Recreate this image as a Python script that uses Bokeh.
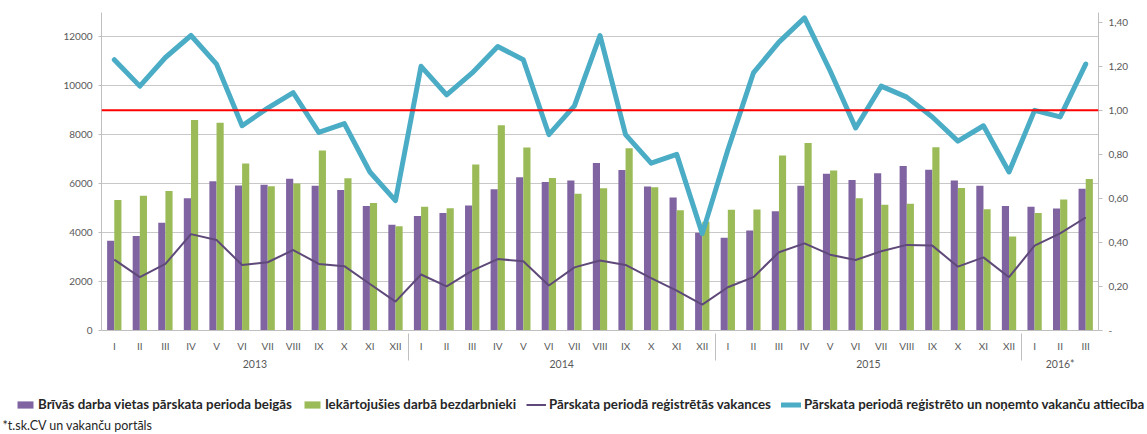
from bokeh.plotting import figure
from bokeh.layouts import column
from bokeh.models import (FactorRange, Range1d, LinearAxis, FixedTicker, CustomJSTickFormatter,
                          ColumnDataSource, Span, Legend, LegendItem, Label)
from bokeh.transform import dodge
from bokeh.embed import file_html
from bokeh.resources import INLINE

years = ["2013", "2014", "2015", "2016*"]
months = ["I", "II", "III", "IV", "V", "VI", "VII", "VIII", "IX", "X", "XI", "XII"]
months_per_year = [12, 12, 12, 3]

# Brīvās darba vietas pārskata perioda beigās (purple bars)
vacancies_end = [3670, 3860, 4400, 5410, 6100, 5930, 5960, 6200, 5920, 5740, 5090, 4320,
                 4680, 4800, 5110, 5770, 6270, 6070, 6130, 6850, 6560, 5890, 5440, 4000,
                 3790, 4090, 4870, 5920, 6410, 6150, 6430, 6720, 6570, 6130, 5920, 5090,
                 5060, 4990, 5790]
# Iekārtojušies darbā bezdarbnieki (green bars)
employed = [5330, 5510, 5700, 8610, 8490, 6830, 5900, 6010, 7360, 6220, 5210, 4260,
            5060, 5000, 6790, 8390, 7480, 6230, 5590, 5820, 7450, 5860, 4920, 4450,
            4940, 4950, 7150, 7670, 6540, 5410, 5140, 5180, 7490, 5830, 4960, 3840,
            4800, 5360, 6190]
# Pārskata periodā reģistrētās vakances (dark purple line)
registered = [2900, 2180, 2720, 3940, 3700, 2680, 2790, 3290, 2720, 2630, 1900, 1180,
              2290, 1800, 2450, 2920, 2830, 1840, 2580, 2860, 2680, 2140, 1630, 1060,
              1770, 2180, 3200, 3560, 3100, 2880, 3240, 3500, 3470, 2610, 2990, 2180,
              3470, 3970, 4620]
# Pārskata periodā reģistrēto un noņemto vakanču attiecība (blue line, right axis)
ratio = [1.23, 1.11, 1.24, 1.34, 1.21, 0.93, 1.01, 1.08, 0.90, 0.94, 0.72, 0.59,
         1.20, 1.07, 1.17, 1.29, 1.23, 0.89, 1.02, 1.34, 0.89, 0.76, 0.80, 0.44,
         0.82, 1.17, 1.31, 1.42, 1.18, 0.92, 1.11, 1.06, 0.97, 0.86, 0.93, 0.72,
         1.00, 0.97, 1.21]

left_ticks = [0, 2000, 4000, 6000, 8000, 10000, 12000]
right_ticks = [0, 0.2, 0.4, 0.6, 0.8, 1.0, 1.2, 1.4]
threshold = 9000
left_max = 13000

series_labels = ["Brīvās darba vietas pārskata perioda beigās",
                 "Iekārtojušies darbā bezdarbnieki",
                 "Pārskata periodā reģistrētās vakances",
                 "Pārskata periodā reģistrēto un noņemto vakanču attiecība"]
footnote = "*t.sk.CV un vakanču portāls"

factors = [(y, months[m]) for y, n in zip(years, months_per_year) for m in range(n)]

FONT = "Lato"
GRAY = "#595959"
PURPLE = "#8064A2"
GREEN = "#9BBB59"
DARK = "#5F497A"
BLUE = "#4BACC6"
W = 1147

src = ColumnDataSource(dict(x=factors, vac=vacancies_end, emp=employed, reg=registered, ratio=ratio))

p = figure(x_range=FactorRange(factors=factors, group_padding=0, factor_padding=0, range_padding=0),
           y_range=Range1d(0, left_max), width=W, height=376,
           output_backend="svg", toolbar_location=None,
           min_border_left=101, min_border_right=W - 1098, min_border_top=12, min_border_bottom=46)
p.outline_line_color = None
p.border_fill_color = "white"

p.extra_y_ranges = {"ratio": Range1d(0, left_max / threshold)}

# left axis
ya = p.yaxis[0]
ya.ticker = FixedTicker(ticks=left_ticks)
ya.axis_line_color = "#BFBFBF"
ya.major_tick_line_color = "#BFBFBF"
ya.major_tick_out = 3
ya.major_tick_in = 0
ya.minor_tick_line_color = None
ya.major_label_standoff = 6
ya.major_label_text_font = FONT
ya.major_label_text_font_size = "10px"
ya.major_label_text_color = GRAY

# right axis
ra = LinearAxis(y_range_name="ratio", ticker=FixedTicker(ticks=right_ticks),
                formatter=CustomJSTickFormatter(code="return tick == 0 ? '-' : tick.toFixed(2).replace('.', ',');"))
ra.axis_line_color = "#BFBFBF"
ra.major_tick_line_color = "#BFBFBF"
ra.major_tick_out = 4
ra.major_tick_in = 0
ra.minor_tick_line_color = None
ra.major_label_standoff = 6
ra.major_label_text_font = FONT
ra.major_label_text_font_size = "10px"
ra.major_label_text_color = GRAY
p.add_layout(ra, "right")

# x axis
xa = p.xaxis[0]
xa.axis_line_color = "#BFBFBF"
xa.major_tick_line_color = None
xa.minor_tick_line_color = None
xa.major_label_text_font = FONT
xa.major_label_text_font_size = "10px"
xa.major_label_text_color = GRAY
xa.major_label_text_line_height = 2.0
xa.major_label_standoff = 3
xa.group_text_font = FONT
xa.group_text_font_size = "10.5px"
xa.group_text_font_style = "normal"
xa.group_text_color = GRAY
xa.separator_line_color = "#BFBFBF"
xa.separator_line_width = 1

p.xgrid.grid_line_color = None
p.ygrid.ticker = FixedTicker(ticks=left_ticks[1:])
p.ygrid.grid_line_color = "#C8C8C8"
p.ygrid.grid_line_width = 1

p.vbar(x=dodge("x", -0.14, range=p.x_range), top="vac", width=0.28, source=src,
       fill_color=PURPLE, line_color=None)
p.vbar(x=dodge("x", 0.14, range=p.x_range), top="emp", width=0.28, source=src,
       fill_color=GREEN, line_color=None)

p.add_layout(Span(location=threshold, dimension="width", line_color="#FF0000", line_width=2))

p.line(x="x", y="reg", source=src, line_color=DARK, line_width=2)
p.line(x="x", y="ratio", source=src, y_range_name="ratio", line_color=BLUE,
       line_width=5, line_join="round", line_cap="round")

# legend + footnote strip below the chart
q = figure(width=W, height=56, x_range=Range1d(0, W), y_range=Range1d(0, 56),
           output_backend="svg", toolbar_location=None, min_border=0)
q.frame_align = False
q.axis.visible = False
q.grid.visible = False
q.outline_line_color = None
q.border_fill_color = "white"
nan = float("nan")
dummy = ColumnDataSource(dict(x=[nan], y=[nan]))
l1 = q.vbar(x="x", top="y", width=1, source=dummy, fill_color=PURPLE, line_color=None)
l2 = q.vbar(x="x", top="y", width=1, source=dummy, fill_color=GREEN, line_color=None)
l3 = q.line(x="x", y="y", source=dummy, line_color=DARK, line_width=2)
l4 = q.line(x="x", y="y", source=dummy, line_color=BLUE, line_width=5, line_cap="round")

legend = Legend(items=[LegendItem(label=t, renderers=[r]) for t, r in zip(series_labels, [l1, l2, l3, l4])],
                orientation="horizontal", location=(15, 20))
legend.label_text_font = FONT
legend.label_text_font_size = "13.3px"
legend.label_text_font_style = "bold"
legend.label_text_color = "#262626"
legend.glyph_width = 20
legend.glyph_height = 9
legend.label_standoff = 3
legend.spacing = 10
legend.padding = 0
legend.margin = 0
legend.border_line_color = None
legend.background_fill_alpha = 0
q.add_layout(legend, "center")

q.add_layout(Label(x=2, y=7, text=footnote, text_font=FONT, text_font_size="12.5px",
                   text_color="#262626", text_baseline="middle"))

open("out.html", "w").write(file_html(column(p, q, spacing=0), INLINE))
